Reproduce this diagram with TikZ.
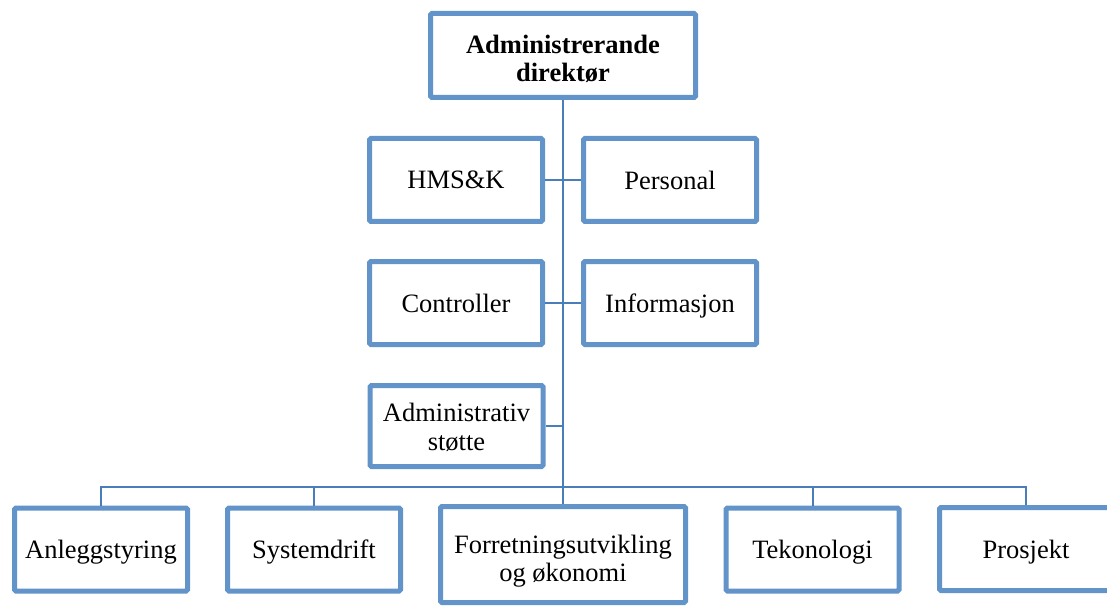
\documentclass[tikz,border=0pt]{standalone}
\usepackage{fontspec}
\setmainfont{Liberation Serif}
\definecolor{boxblue}{RGB}{98,148,201}
\definecolor{lineblue}{RGB}{74,126,187}
% shift a line of text down without changing its box
\newcommand\lowerline[2]{\raisebox{-#1}[\height][\depth]{#2}}
\tikzset{
  orgbox/.style={draw=boxblue, line width=5pt, rounded corners=1.5pt, fill=white,
    inner sep=0pt, align=center, minimum width=173pt, minimum height=83pt,
    text depth=0pt, font=\fontsize{26.5}{28.5}\selectfont},
  conn/.style={draw=lineblue, line width=2pt}
}
\begin{document}
\begin{tikzpicture}[x=1pt,y=-1pt]
  \useasboundingbox (0,0) rectangle (1107,612);
  \clip (0,0) rectangle (1107,612);

  % management
  \node[orgbox, minimum width=265pt, minimum height=84pt] (ceo) at (563,55.5)
    {\lowerline{3pt}{\textbf{Administrerande}}\\\lowerline{3pt}{\textbf{direktør}}};

  % staff functions
  \node[orgbox] (hms)  at (456,180) {HMS\&K};
  \node[orgbox] (pers) at (670,180) {Personal};
  \node[orgbox] (ctrl) at (456,303) {Controller};
  \node[orgbox] (info) at (670,303) {Informasjon};
  \node[orgbox, minimum height=81pt] (adm) at (456.5,426)
    {\lowerline{1pt}{Administrativ}\\\lowerline{1pt}{støtte}};

  % line units
  \node[orgbox] (anl) at (101,549.5) {Anleggstyring};
  \node[orgbox] (sys) at (314,549.5) {Systemdrift};
  \node[orgbox, minimum width=245pt, minimum height=96pt] (forr) at (563,554.5)
    {\lowerline{4pt}{Forretningsutvikling}\\\lowerline{4pt}{og økonomi}};
  \node[orgbox] (tek) at (812.5,549.5) {Tekonologi};
  \node[orgbox] (pro) at (1026,549) {Prosjekt};

  % connectors
  \coordinate (busy) at (0,487);
  \draw[conn] (ceo.south) -- (forr.north);
  \draw[conn] (hms.east) -- (pers.west);
  \draw[conn] (ctrl.east) -- (info.west);
  \draw[conn] (adm.east) -- (adm.east -| ceo.south);
  \draw[conn] (anl.north) -- (anl.north |- busy) -- (pro.north |- busy) -- (pro.north);
  \draw[conn] (sys.north) -- (sys.north |- busy);
  \draw[conn] (tek.north) -- (tek.north |- busy);
\end{tikzpicture}
\end{document}
